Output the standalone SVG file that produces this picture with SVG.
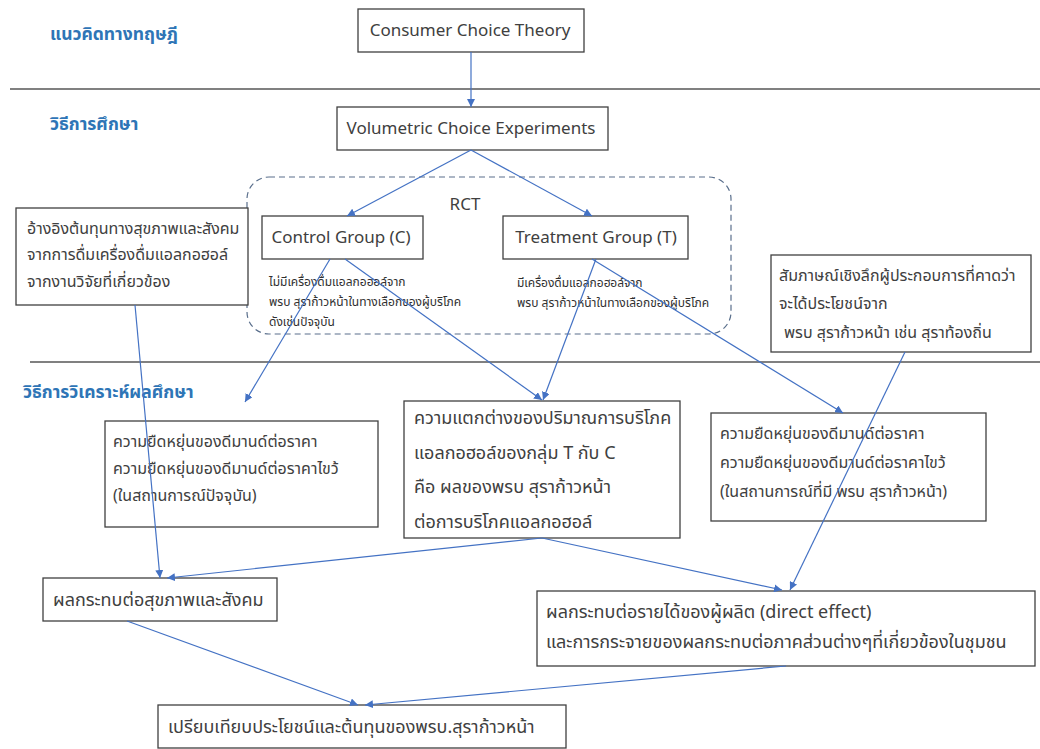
<svg xmlns="http://www.w3.org/2000/svg" width="1040" height="749" viewBox="0 0 1040 749">
<style>
text{font-family:"Noto Sans","Noto Sans Thai","DejaVu Sans",sans-serif;fill:#404040}
.sec{fill:#2E75B6;font-weight:bold;font-size:17.5px}
.box{fill:#fff;stroke:#404040;stroke-width:1.3}
.t{font-size:16px}
.l{font-size:17px}
.m{font-size:18px}
.s{font-size:12px;fill:#303030}
.sep{stroke:#808080;stroke-width:2}
.c{stroke:#4472C4;stroke-width:1.2;fill:none;marker-end:url(#ah)}
</style>
<defs>
<marker id="ah" viewBox="0 0 10 10" refX="10" refY="5" markerWidth="8" markerHeight="8" markerUnits="userSpaceOnUse" orient="auto">
<path d="M0,0 L10,5 L0,10 z" fill="#4472C4"/>
</marker>
</defs>
<rect width="1040" height="749" fill="#fff"/>
<g id="separators">
<line class="sep" x1="10" y1="89" x2="1040" y2="89"/>
<line class="sep" x1="30" y1="362" x2="1040" y2="362"/>
</g>
<g id="section-labels">
<text class="sec" x="50" y="40">แนวคิดทางทฤษฎี</text>
<text class="sec" x="50" y="130">วิธีการศึกษา</text>
<text class="sec" x="23" y="398">วิธีการวิเคราะห์ผลศึกษา</text>
</g>
<g id="rct">
<rect x="247" y="177" width="484" height="157" rx="22" ry="22" fill="none" stroke="#5a6f8c" stroke-width="1.2" stroke-dasharray="6,4"/>
<text class="l" x="465" y="210" text-anchor="middle">RCT</text>
</g>
<g id="consumer-choice">
<rect class="box" x="358" y="9" width="226" height="43"/>
<text class="l" x="470" y="36" text-anchor="middle">Consumer Choice Theory</text>
</g>
<g id="volumetric">
<rect class="box" x="337" y="107" width="271" height="43"/>
<text class="l" x="471" y="134" text-anchor="middle">Volumetric Choice Experiments</text>
</g>
<g id="control">
<rect class="box" x="262" y="216" width="161" height="43"/>
<text class="l" x="341" y="243" text-anchor="middle">Control Group (C)</text>
<text class="s" x="269" y="286">ไม่มีเครื่องดื่มแอลกอฮอล์จาก</text>
<text class="s" x="269" y="306">พรบ สุราก้าวหน้าในทางเลือกของผู้บริโภค</text>
<text class="s" x="269" y="326">ดังเช่นปัจจุบัน</text>
</g>
<g id="treatment">
<rect class="box" x="503" y="216" width="185" height="43"/>
<text class="l" x="596" y="243" text-anchor="middle">Treatment Group (T)</text>
<text class="s" x="517" y="287">มีเครื่องดื่มแอลกอฮอล์จาก</text>
<text class="s" x="517" y="307">พรบ สุราก้าวหน้าในทางเลือกของผู้บริโภค</text>
</g>
<g id="health-cost-ref">
<rect class="box" x="16" y="208" width="232" height="97"/>
<text class="t" x="27" y="234">อ้างอิงต้นทุนทางสุขภาพและสังคม</text>
<text class="t" x="27" y="260">จากการดื่มเครื่องดื่มแอลกอฮอล์</text>
<text class="t" x="27" y="287">จากงานวิจัยที่เกี่ยวข้อง</text>
</g>
<g id="interview">
<rect class="box" x="771" y="255" width="260" height="97"/>
<text class="t" x="779" y="281">สัมภาษณ์เชิงลึกผู้ประกอบการที่คาดว่า</text>
<text class="t" x="779" y="309">จะได้ประโยชน์จาก</text>
<text class="t" x="784" y="338">พรบ สุราก้าวหน้า เช่น สุราท้องถิ่น</text>
</g>
<g id="elasticity-current">
<rect class="box" x="105" y="421" width="273" height="106"/>
<text class="t" x="113" y="447">ความยืดหยุ่นของดีมานด์ต่อราคา</text>
<text class="t" x="113" y="474">ความยืดหยุ่นของดีมานด์ต่อราคาไขว้</text>
<text class="t" x="113" y="501">(ในสถานการณ์ปัจจุบัน)</text>
</g>
<g id="consumption-diff">
<rect class="box" x="404" y="401" width="276" height="137"/>
<text class="m" x="414" y="424">ความแตกต่างของปริมาณการบริโภค</text>
<text class="m" x="414" y="459">แอลกอฮอล์ของกลุ่ม T กับ C</text>
<text class="m" x="414" y="493">คือ ผลของพรบ สุราก้าวหน้า</text>
<text class="m" x="414" y="528">ต่อการบริโภคแอลกอฮอล์</text>
</g>
<g id="elasticity-policy">
<rect class="box" x="711" y="413" width="275" height="108"/>
<text class="t" x="720" y="439">ความยืดหยุ่นของดีมานด์ต่อราคา</text>
<text class="t" x="720" y="468">ความยืดหยุ่นของดีมานด์ต่อราคาไขว้</text>
<text class="t" x="720" y="497">(ในสถานการณ์ที่มี พรบ สุราก้าวหน้า)</text>
</g>
<g id="health-impact">
<rect class="box" x="43" y="578" width="234" height="43"/>
<text class="m" x="53" y="606">ผลกระทบต่อสุขภาพและสังคม</text>
</g>
<g id="producer-impact">
<rect class="box" x="537" y="591" width="498" height="75"/>
<text class="m" x="546" y="618">ผลกระทบต่อรายได้ของผู้ผลิต (direct effect)</text>
<text class="m" x="546" y="648">และการกระจายของผลกระทบต่อภาคส่วนต่างๆที่เกี่ยวข้องในชุมชน</text>
</g>
<g id="compare">
<rect class="box" x="158" y="705" width="408" height="43"/>
<text class="m" x="168" y="733">เปรียบเทียบประโยชน์และต้นทุนของพรบ.สุราก้าวหน้า</text>
</g>
<g id="connectors">
<line class="c" x1="471" y1="52" x2="471" y2="107"/>
<line class="c" x1="471" y1="150" x2="347" y2="216"/>
<line class="c" x1="471" y1="150" x2="592" y2="216"/>
<line class="c" x1="330" y1="259" x2="245" y2="402"/>
<line class="c" x1="345" y1="259" x2="542" y2="400"/>
<line class="c" x1="596" y1="259" x2="543" y2="400"/>
<line class="c" x1="592" y1="259" x2="843" y2="413"/>
<line class="c" x1="135" y1="305" x2="160" y2="578"/>
<line class="c" x1="905" y1="352" x2="790" y2="590"/>
<line class="c" x1="542" y1="538" x2="167" y2="578"/>
<line class="c" x1="542" y1="538" x2="782" y2="590"/>
<line class="c" x1="127" y1="621" x2="358" y2="705"/>
<line class="c" x1="786" y1="666" x2="365" y2="705"/>
</g>
</svg>
